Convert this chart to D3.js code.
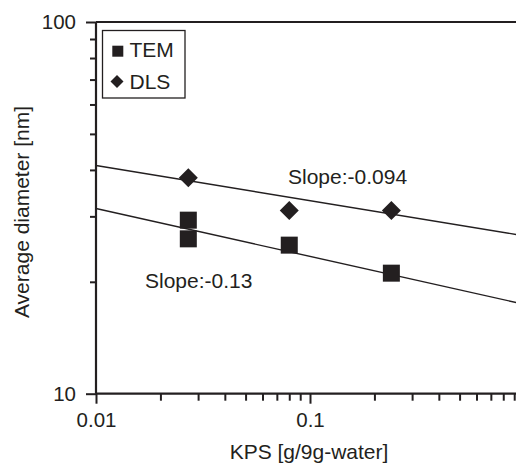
<!DOCTYPE html>
<html>
<head>
<meta charset="utf-8">
<script src="https://cdn.jsdelivr.net/npm/d3@7"></script>
<style>
  html, body { margin: 0; padding: 0; background: #fff; }
  svg { display: block; }
  text { font-family: "Liberation Sans", Arial, sans-serif; fill: #231f20; }
</style>
</head>
<body>
<svg id="chart" width="516" height="466"></svg>
<script>
// ---- data ----
const temKps = [0.027, 0.027, 0.08, 0.24];
const temDiameter = [29.3, 26.1, 25.1, 21.1];
const dlsKps = [0.027, 0.08, 0.24];
const dlsDiameter = [38.1, 31.1, 31.1];
// fitted power-law lines (end points at x = 0.01 and x = 1)
const fitKps = [0.01, 1];
const dlsFit = [41.1, 26.6];
const temFit = [31.5, 17.4];
const slopeLabels = ["Slope:-0.094", "Slope:-0.13"];
const xMajorTicks = [0.01, 0.1];
const xMinorTicks = [0.02,0.03,0.04,0.05,0.06,0.07,0.08,0.09,0.2,0.3,0.4,0.5,0.6,0.7,0.8,0.9];
const yMajorTicks = [10, 100];
const yMinorTicks = [20,30,40,50,60,70,80,90];
const legendLabels = ["TEM", "DLS"];

const ink = "#231f20";
const svg = d3.select("#chart");
const mLeft = 96, mTop = 22, mBottom = 393.7;
const x = d3.scaleLog().domain([0.01, 1]).range([mLeft, mLeft + 2 * 214]);
const y = d3.scaleLog().domain([10, 100]).range([mBottom, mTop]);

const fontSize = 21;
const tickFont = 20.5;

function styleAxis(g) {
  g.select(".domain").remove();
  g.selectAll(".tick line").attr("stroke", ink).attr("stroke-width", 2);
  g.selectAll(".tick text").attr("fill", ink).style("font-size", tickFont + "px")
    .style("font-family", "'Liberation Sans', Arial, sans-serif");
}
const gx = svg.append("g").attr("transform", `translate(0,${mBottom})`);
gx.call(d3.axisBottom(x).tickValues(xMinorTicks).tickSize(7).tickFormat(""));
styleAxis(gx);
const gx2 = svg.append("g").attr("transform", `translate(0,${mBottom})`);
gx2.call(d3.axisBottom(x).tickValues(xMajorTicks).tickSize(10).tickPadding(9).tickFormat(d => String(d)));
styleAxis(gx2);

const gy = svg.append("g").attr("transform", `translate(${mLeft},0)`);
gy.call(d3.axisLeft(y).tickValues(yMinorTicks).tickSize(6).tickFormat(""));
styleAxis(gy);
const gy2 = svg.append("g").attr("transform", `translate(${mLeft},0)`);
gy2.call(d3.axisLeft(y).tickValues(yMajorTicks).tickSize(10).tickPadding(10).tickFormat(d3.format("d")));
styleAxis(gy2);

// frame lines
svg.append("line").attr("x1", mLeft).attr("x2", mLeft).attr("y1", mTop).attr("y2", mBottom)
  .attr("stroke", ink).attr("stroke-width", 2.2);
svg.append("line").attr("x1", mLeft).attr("x2", 516).attr("y1", mBottom).attr("y2", mBottom)
  .attr("stroke", ink).attr("stroke-width", 2.2);
svg.append("line").attr("x1", mLeft).attr("x2", 516).attr("y1", mTop).attr("y2", mTop)
  .attr("stroke", ink).attr("stroke-width", 2.2);

// fit lines
const line = d3.line().x(d => x(d[0])).y(d => y(d[1]));
svg.append("path").datum(fitKps.map((k, i) => [k, dlsFit[i]])).attr("d", line)
  .attr("fill", "none").attr("stroke", ink).attr("stroke-width", 1.4);
svg.append("path").datum(fitKps.map((k, i) => [k, temFit[i]])).attr("d", line)
  .attr("fill", "none").attr("stroke", ink).attr("stroke-width", 1.4);

// markers
const sq = 17, dm = 19;
svg.append("g").selectAll("rect").data(temKps.map((k, i) => [k, temDiameter[i]])).join("rect")
  .attr("x", d => x(d[0]) - sq / 2).attr("y", d => y(d[1]) - sq / 2)
  .attr("width", sq).attr("height", sq).attr("fill", ink);
const diamond = d3.symbol().type(d3.symbolSquare).size(dm * dm / 2);
svg.append("g").selectAll("path").data(dlsKps.map((k, i) => [k, dlsDiameter[i]])).join("path")
  .attr("d", diamond)
  .attr("transform", d => `translate(${x(d[0])},${y(d[1])}) rotate(45)`)
  .attr("fill", ink);

// slope labels
svg.append("text").attr("x", 288).attr("y", 184).style("font-size", fontSize + "px").text(slopeLabels[0]);
svg.append("text").attr("x", 145).attr("y", 288).style("font-size", fontSize + "px").text(slopeLabels[1]);

// legend
const lg = svg.append("g");
lg.append("rect").attr("x", 102.5).attr("y", 30.5).attr("width", 82.5).attr("height", 67.5)
  .attr("fill", "#fff").attr("stroke", ink).attr("stroke-width", 1.3);
lg.append("rect").attr("x", 112.3).attr("y", 45.7).attr("width", 11).attr("height", 11).attr("fill", ink);
lg.append("path").attr("d", d3.symbol().type(d3.symbolSquare).size(85))
  .attr("transform", "translate(117,81.5) rotate(45)").attr("fill", ink);
lg.append("text").attr("x", 129.5).attr("y", 57).style("font-size", fontSize + "px").text(legendLabels[0]);
lg.append("text").attr("x", 129.5).attr("y", 88.5).style("font-size", fontSize + "px").text(legendLabels[1]);

// axis titles
svg.append("text").attr("x", 309).attr("y", 459).attr("text-anchor", "middle")
  .style("font-size", fontSize + "px").text("KPS [g/9g-water]");
svg.append("text").attr("transform", "translate(29,212) rotate(-90)").attr("text-anchor", "middle")
  .style("font-size", fontSize + "px").text("Average diameter [nm]");
</script>
</body>
</html>
